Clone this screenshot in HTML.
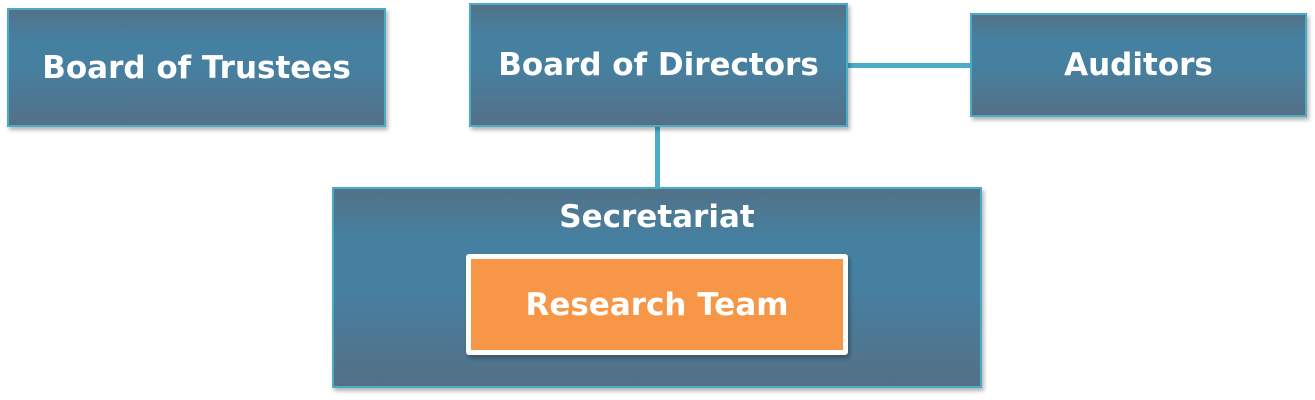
<!DOCTYPE html>
<html><head><style>
body{margin:0;width:1315px;height:400px;background:#fff;position:relative;overflow:hidden;font-family:"DejaVu Sans","Liberation Sans",sans-serif;}
.b{position:absolute;box-sizing:border-box;border:2px solid #4bacc6;background:linear-gradient(#527288 0%,#4680a0 25%,#4680a0 50%,#547087 100%);color:#fff;font-weight:bold;font-size:31px;display:flex;align-items:center;justify-content:center;box-shadow:2px 3px 4px rgba(0,0,0,0.3);}
.l{position:absolute;background:#4bacc6;}
</style></head><body>
<div class="l" style="left:655px;top:125px;width:5px;height:64px;"></div>
<div class="l" style="left:846px;top:63px;width:126px;height:5px;"></div>
<div class="b" style="left:7px;top:8px;width:379px;height:119px;">Board of Trustees</div>
<div class="b" style="left:469px;top:3px;width:379px;height:124px;">Board of Directors</div>
<div class="b" style="left:970px;top:13px;width:337px;height:104px;">Auditors</div>
<div class="b" style="left:332px;top:187px;width:650px;height:201px;align-items:flex-start;padding-top:10px;">Secretariat</div>
<div style="position:absolute;left:466px;top:254px;width:382px;height:101px;box-sizing:border-box;border:5px solid #fff;border-radius:3px;background:#f79646;color:#fff;font-weight:bold;font-size:31px;display:flex;align-items:center;justify-content:center;box-shadow:2px 3px 4px rgba(0,0,0,0.3);">Research Team</div>
</body></html>
